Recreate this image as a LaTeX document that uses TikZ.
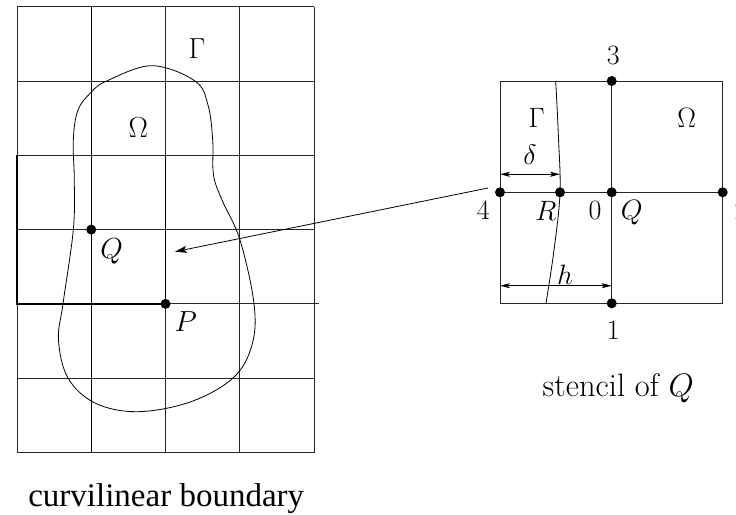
\RequirePackage{fix-cm}
\documentclass[tikz,border=0pt]{standalone}
\usepackage{fontspec}
\newfontfamily\timesfont{Liberation Serif}
\usetikzlibrary{arrows.meta}
\tikzset{
  gridline/.style={line width=0.9pt, black!85},
  boldline/.style={line width=1.3pt, black},
  curveline/.style={line width=0.8pt, black},
  dot/.style={circle, fill=black, inner sep=0pt, minimum size=10pt},
  lbl/.style={inner sep=0pt, font=\fontsize{29}{34}\selectfont},
  slbl/.style={inner sep=0pt, font=\fontsize{28}{33}\selectfont},
  captext/.style={inner sep=0pt, anchor=base},
  linkarrow/.style={line width=0.8pt, -{Stealth[length=12pt,width=7pt,inset=3pt]}},
  dimarrow/.style={line width=0.8pt, {Stealth[length=10pt,width=5pt,inset=2.5pt]}-{Stealth[length=10pt,width=5pt,inset=2.5pt]}}
}
\begin{document}
\begin{tikzpicture}[x=1pt,y=-1pt]
\useasboundingbox (0,0) rectangle (736,514);
% ---- left grid ----
\foreach \x in {17,91.25,165.5,239.75,314}
  \draw[gridline] (\x,6.7) -- (\x,452.5);
\foreach \y in {6.7,81,155.3,229.6,378.2,452.5}
  \draw[gridline] (17,\y) -- (314,\y);
\draw[gridline] (165.5,303.9) -- (319,303.9);
\draw[boldline] (17,155.3) -- (17,303.9) -- (165.5,303.9);
\draw[line width=1.1pt] (165.5,155.3) -- (165.5,303.9);
\draw[line width=1.1pt] (91.25,6.7) -- (91.25,452.5);
% boundary curve
\draw[curveline] plot[smooth cycle, tension=0.6] coordinates {
  (151.7,65.7) (195,81) (208,105) (212.7,140) (213.5,175) (222,200)
  (240,240) (254,303.7) (252,345) (233,378) (190,402) (137,411.7)
  (95,403) (68,378) (58.5,340) (63,303.7) (73.3,230) (74.3,180)
  (73.3,140) (78,110) (91.7,91.7) (106.7,81)};
\node[dot] (Q) at (91.25,229.6) {};
\node[dot] (P) at (165.5,303.9) {};
\node[lbl] (gam) at (197,48.3) {$\Gamma$};
\node[lbl] (om) at (138.3,127.7) {$\Omega$};
\node[lbl] (qlab) at (111.7,251) {$Q$};
\node[lbl] (plab) at (185.7,321.7) {$P$};
\coordinate (atip) at (175,251.7);
% ---- stencil ----
\draw[gridline] (500,81) rectangle (722.7,303.3);
\draw[gridline] (611.7,81) -- (611.7,303.3);
\draw[gridline] (500,192.3) -- (722.7,192.3);
\draw[curveline] plot[smooth, tension=0.6] coordinates {
  (555.7,81) (558.3,134) (560,192.3) (554,250) (546,303.3)};
\node[dot] (s3) at (611.7,81) {};
\node[dot] (s4) at (500,192.3) {};
\node[dot] (sR) at (560,192.3) {};
\node[dot] (s0) at (611.7,192.3) {};
\node[dot] (s2) at (722.7,192.3) {};
\node[dot] (s1) at (611.7,303.3) {};
\coordinate (astart) at (488,188);
\draw[linkarrow] (astart) -- (atip);
\coordinate (dL) at (500,174.3);
\coordinate (dR) at (560,174.3);
\draw[dimarrow] (dL) -- (dR);
\coordinate (hL) at (500,285.7);
\coordinate (hR) at (611.7,285.7);
\draw[dimarrow] (hL) -- (hR);
\node[slbl] (l3) at (613.3,55) {$3$};
\node[slbl] (l4) at (483.3,210.5) {$4$};
\node[slbl] (lR) at (546,210.5) {$R$};
\node[slbl] (l0) at (595,210.5) {$0$};
\node[slbl] (lQ) at (631.7,213) {$Q$};
\node[slbl] (l2) at (741,210.5) {$2$};
\node[slbl] (l1) at (613.3,330) {$1$};
\node[slbl] (sg) at (536.7,118.3) {$\Gamma$};
\node[slbl] (so) at (686.7,118.3) {$\Omega$};
\node[slbl] (sd) at (530,155) {$\delta$};
\node[slbl] (sh) at (565,275) {$h$};
% ---- captions ----
\node[captext, font=\timesfont\fontsize{33}{40}\selectfont] (capL) at (166.2,506.7) {curvilinear boundary};
\node[captext, font=\fontsize{32.5}{39}\selectfont] (capR) at (618.3,396.7) {stencil of $Q$};
\end{tikzpicture}
\end{document}
